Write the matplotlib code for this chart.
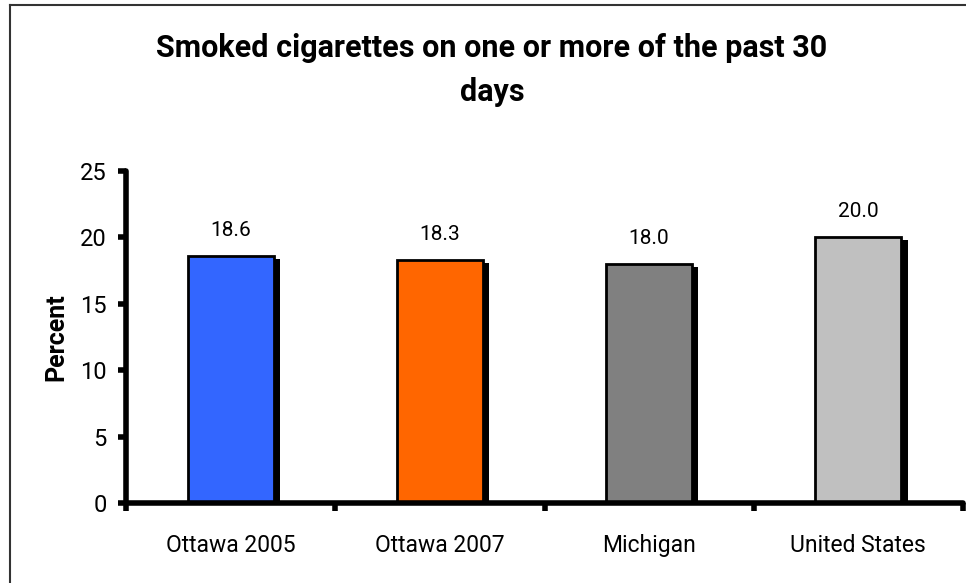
import matplotlib
matplotlib.use("Agg")
import matplotlib.pyplot as plt
from matplotlib.patches import Rectangle

categories = ["Ottawa 2005", "Ottawa 2007", "Michigan", "United States"]
values = [18.6, 18.3, 18.0, 20.0]
colors = ["#3366FF", "#FF6600", "#808080", "#C0C0C0"]
yticks = [0, 5, 10, 15, 20, 25]

plt.rcParams["font.family"] = ["Roboto", "DejaVu Sans"]

fig = plt.figure(figsize=(9.66, 5.83), dpi=100)
W, H = 966, 583
ax = fig.add_axes([126 / W, 1 - 503 / H, (963 - 126) / W, (503 - 171) / H])

x = list(range(len(categories)))
width = 0.41
# drop shadow behind each bar
for xi, v in zip(x, values):
    ax.add_patch(Rectangle((xi - width / 2 + 0.03, 0), width, v - 0.2,
                           facecolor="black", edgecolor="none", zorder=1))
ax.bar(x, values, width=width, color=colors, edgecolor="black", linewidth=2, zorder=2)

for xi, v in zip(x, values):
    ax.text(xi, v + 1.2, f"{v:.1f}", ha="center", va="bottom", fontsize=15)

ax.set_xlim(-0.5, 3.5)
ax.set_ylim(0, 25)
ax.set_yticks(yticks)
ax.set_yticklabels([str(t) for t in yticks], fontsize=17)
ax.set_xticks([-0.5, 0.5, 1.5, 2.5, 3.5])
ax.set_xticklabels([])
ax.set_xticks(x, minor=True)
ax.set_xticklabels(categories, minor=True, fontsize=16.5)
ax.tick_params(axis="x", which="minor", length=0, pad=22)
ax.tick_params(axis="x", which="major", direction="out", length=6, width=4)
ax.tick_params(axis="y", direction="out", length=6, width=4, pad=8)
for s in ["top", "right"]:
    ax.spines[s].set_visible(False)
for s in ["left", "bottom"]:
    ax.spines[s].set_linewidth(4)
    ax.spines[s].set_capstyle("round")
ax.set_ylabel("Percent", fontsize=18, fontweight="bold", labelpad=8)

fig.text(492 / W, 1 - 70 / H, "Smoked cigarettes on one or more of the past 30\ndays",
         ha="center", va="center", fontsize=22, fontweight="bold",
         linespacing=1.55)

# outer frame (only top and left edges visible)
fig.add_artist(plt.Line2D([10 / W, 1], [1 - 5 / H, 1 - 5 / H], color="#333333", lw=1.5))
fig.add_artist(plt.Line2D([10 / W, 10 / W], [0, 1 - 5 / H], color="#333333", lw=1.5))

fig.savefig("out.png", dpi=100)
